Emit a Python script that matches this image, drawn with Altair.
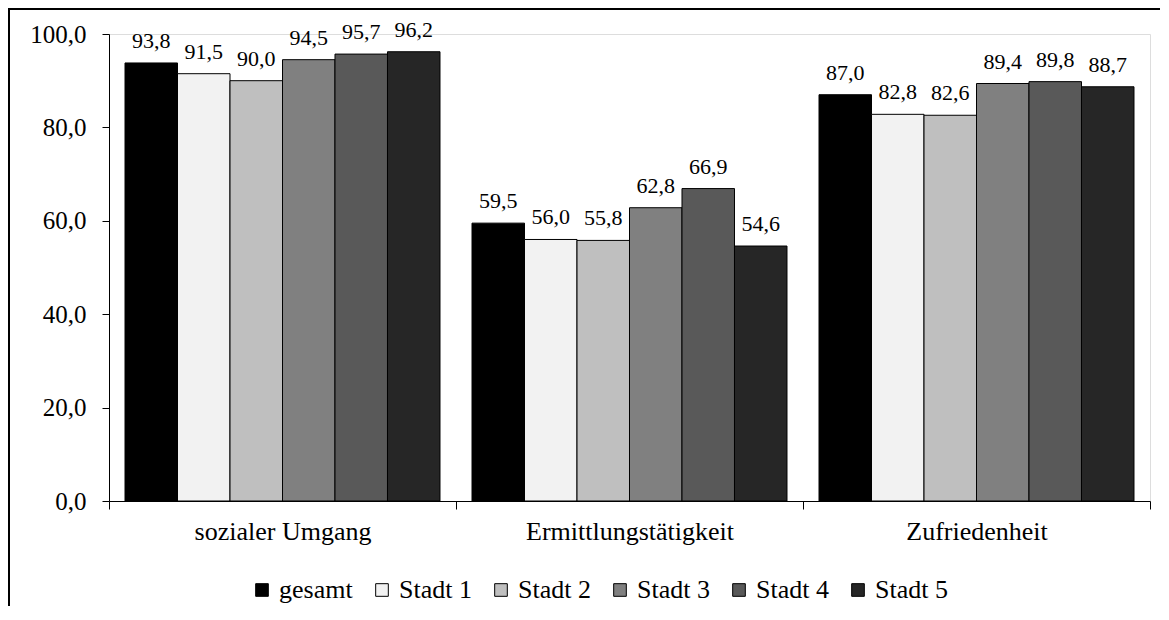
import altair as alt
import pandas as pd

categories = ["sozialer Umgang", "Ermittlungstätigkeit", "Zufriedenheit"]
series = ["gesamt", "Stadt 1", "Stadt 2", "Stadt 3", "Stadt 4", "Stadt 5"]
colors = ["#000000", "#f2f2f2", "#bfbfbf", "#808080", "#595959", "#262626"]

gesamt = [93.8, 59.5, 87.0]
stadt1 = [91.5, 56.0, 82.8]
stadt2 = [90.0, 55.8, 82.6]
stadt3 = [94.5, 62.8, 89.4]
stadt4 = [95.7, 66.9, 89.8]
stadt5 = [96.2, 54.6, 88.7]

values = [gesamt, stadt1, stadt2, stadt3, stadt4, stadt5]
rows = []
for s, vals in zip(series, values):
    for c, v in zip(categories, vals):
        rows.append({"cat": c, "series": s, "value": v,
                     "label": f"{v:.1f}".replace(".", ",")})
df = pd.DataFrame(rows)

FONT = "Liberation Serif"

x_enc = alt.X("cat:N", sort=categories,
              scale=alt.Scale(paddingInner=0, paddingOuter=0),
              axis=alt.Axis(title=None, tickBand="extent", labelAngle=0,
                            labelFontSize=26, labelFont=FONT, labelColor="black",
                            labelLimit=0,
                            tickSize=8, tickColor="black", domainColor="black",
                            labelPadding=9))
xo_enc = alt.XOffset("series:N", sort=series,
                     scale=alt.Scale(paddingInner=0, paddingOuter=0.305))
y_enc = alt.Y("value:Q",
              scale=alt.Scale(domain=[0, 100]),
              axis=alt.Axis(title=None, values=[0, 20, 40, 60, 80, 100], grid=False,
                            labelExpr="replace(format(datum.value, '.1f'), '.', ',')",
                            labelFontSize=25, labelFont=FONT, labelColor="black",
                            tickSize=7, tickColor="black", domainColor="black",
                            labelPadding=16))

base = alt.Chart(df)

bars = base.mark_bar(stroke="black", strokeWidth=1).encode(
    x=x_enc,
    xOffset=xo_enc,
    y=y_enc,
    color=alt.Color("series:N", sort=series,
                    scale=alt.Scale(domain=series, range=colors),
                    legend=alt.Legend(title=None, orient="none", direction="horizontal",
                                      legendX=140, legendY=543,
                                      symbolType="square", symbolSize=160,
                                      symbolStrokeColor="black", symbolStrokeWidth=1,
                                      labelFontSize=26, labelFont=FONT, labelColor="black",
                                      labelOffset=4, columnPadding=16, padding=0)),
)

texts = base.mark_text(baseline="alphabetic", dy=-15, fontSize=22, font=FONT,
                       color="black").encode(
    x=alt.X("cat:N", sort=categories),
    xOffset=alt.XOffset("series:N", sort=series),
    y=alt.Y("value:Q"),
    text="label:N",
)

frame_df = pd.DataFrame({"k": [0]})
frame_left = alt.Chart(frame_df).mark_rule(color="black", strokeWidth=2).encode(
    x=alt.value(-100), y=alt.value(-25), y2=alt.value(700))
frame_top = alt.Chart(frame_df).mark_rule(color="black", strokeWidth=2).encode(
    x=alt.value(-101), x2=alt.value(1100), y=alt.value(-25))

chart = alt.layer(bars, texts, frame_left, frame_top).properties(
    width=1041, height=467,
    autosize=alt.AutoSizeParams(type="none"),
    padding={"left": 101, "top": 26, "right": 10, "bottom": 105},
).configure_view(stroke=None).configure(font=FONT)

chart.save("out.html", embed_options={"renderer": "svg", "actions": False})
